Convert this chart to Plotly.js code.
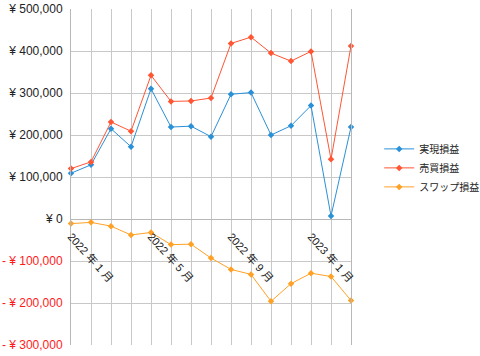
<!DOCTYPE html>
<html>
<head>
<meta charset="utf-8">
<script src="https://cdn.plot.ly/plotly-3.0.1.min.js"></script>
<style>html,body{margin:0;padding:0;background:#fff;}#chart{width:480px;height:356px;}</style>
</head>
<body>
<div id="chart"></div>
<script>
const months = ["2022-01","2022-02","2022-03","2022-04","2022-05","2022-06","2022-07","2022-08","2022-09","2022-10","2022-11","2022-12","2023-01","2023-02","2023-03"];
const monthLabels = ["2022 年 1 月","","","","2022 年 5 月","","","","2022 年 9 月","","","","2023 年 1 月","",""];
const realized = [109000, 129000, 215000, 172000, 310000, 219000, 221000, 196000, 297000, 301000, 200000, 222000, 270000, 7000, 219000];
const trading = [120000, 136000, 231000, 209000, 342000, 280000, 281000, 288000, 418000, 433000, 395000, 376000, 399000, 142000, 412000];
const swap = [-11000, -8000, -17000, -38000, -32000, -61000, -60000, -93000, -120000, -132000, -196000, -154000, -129000, -137000, -194000];
const seriesNames = ["実現損益","売買損益","スワップ損益"];
const yTickVals = [500000,400000,300000,200000,100000,0,-100000,-200000,-300000];

const colors = ["#2a90d8","#ff5533","#ffa126"];
const idx = months.map((m,i)=>i);
const fmt = v => {
  const s = Math.abs(v).toLocaleString('en-US');
  return v < 0 ? '<span style="color:#ff1a1a">- ¥ ' + s + '</span>' : '¥ ' + s;
};
const data = [realized, trading, swap].map((vals,k)=>({
  x: idx, y: vals, name: seriesNames[k], type: 'scatter', mode: 'lines+markers',
  line: {color: colors[k], width: 1},
  marker: {symbol: 'diamond', size: 5, color: colors[k]},
  cliponaxis: false
}));
const font = "Liberation Sans, Arial, Noto Sans CJK JP, sans-serif";
const layout = {
  width: 480, height: 356,
  margin: {l: 71, r: 129, t: 9, b: 11},
  paper_bgcolor: '#fff', plot_bgcolor: '#fff',
  font: {family: font, size: 11, color: '#222'},
  showlegend: true,
  legend: {xref: 'container', yref: 'container', x: 0.79, y: 0.6225, xanchor: 'left', yanchor: 'top',
           font: {size: 10, family: font, color: '#222'}, tracegroupgap: 0},
  xaxis: {
    range: [0, 14], anchor: 'free', position: 0.375,
    tickvals: idx, ticktext: monthLabels, tickangle: 48,
    showgrid: true, gridcolor: '#c8c8c8', gridwidth: 1,
    showline: false, ticks: '', zeroline: false, ticklabelstandoff: 8,
    tickfont: {size: 11, family: font, color: '#222'}
  },
  yaxis: {
    range: [-300000, 500000], tickvals: yTickVals, ticktext: yTickVals.map(fmt),
    showgrid: true, gridcolor: '#c8c8c8', gridwidth: 1,
    zeroline: true, zerolinecolor: '#b8b8b8', zerolinewidth: 1,
    showline: true, linecolor: '#b8b8b8', linewidth: 1, mirror: true,
    ticks: '', ticklabelstandoff: 5,
    tickfont: {size: 12, family: font, color: '#222'}
  }
};
Plotly.newPlot('chart', data, layout, {displayModeBar: false, staticPlot: true});
</script>
</body>
</html>
